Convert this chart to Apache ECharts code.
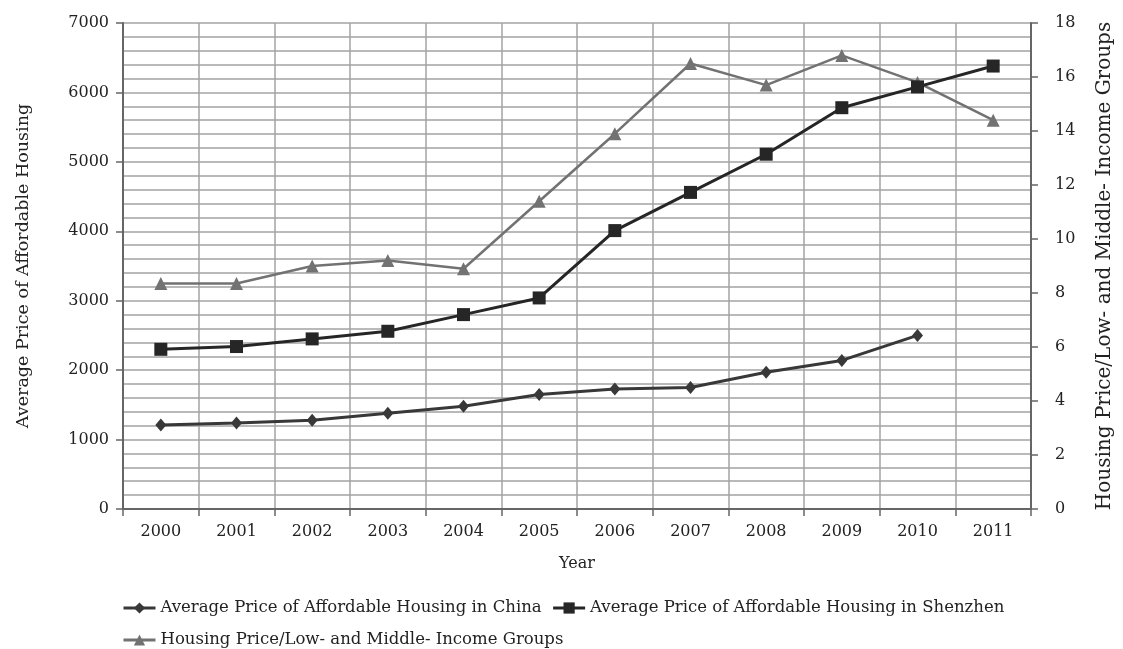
<!DOCTYPE html>
<html>
<head>
<meta charset="utf-8">
<script src="https://cdn.jsdelivr.net/npm/echarts@6/dist/echarts.min.js"></script>
<style>
html,body{margin:0;padding:0;background:#fff;}
#chart{width:1123px;height:649px;}
</style>
</head>
<body>
<div id="chart"></div>
<script>
const years = ['2000','2001','2002','2003','2004','2005','2006','2007','2008','2009','2010','2011'];
const chinaPrice = [1210, 1240, 1280, 1380, 1480, 1650, 1730, 1750, 1970, 2140, 2500, null];
const shenzhenPrice = [2300, 2340, 2450, 2560, 2800, 3040, 4010, 4560, 5110, 5780, 6080, 6380];
const priceIncomeRatio = [8.35, 8.35, 9.0, 9.2, 8.9, 11.4, 13.9, 16.5, 15.7, 16.8, 15.8, 14.4];
const halfSlots = years.flatMap(y => [y + 'a', y + 'b']);

const serif = 'DejaVu Serif';
const chart = echarts.init(document.getElementById('chart'), null, {renderer: 'canvas'});
const gridColor = '#a3a3a3';
const axisColor = '#666';

chart.setOption({
  animation: false,
  backgroundColor: '#fff',
  grid: {left: 123, right: 92, top: 23, bottom: 140, containLabel: false},
  legend: {
    left: 117, top: 592, width: 960,
    itemWidth: 32, itemHeight: 14, itemGap: 10,
    lineStyle: {width: 3},
    textStyle: {fontFamily: serif, fontSize: 16.5, color: '#222', lineHeight: 22},
    data: [
      'Average Price of Affordable Housing in China',
      'Average Price of Affordable Housing in Shenzhen',
      'Housing Price/Low- and Middle- Income Groups'
    ]
  },
  xAxis: [
    {
      type: 'category', data: years, boundaryGap: true,
      name: 'Year', nameLocation: 'middle', nameGap: 47,
      nameTextStyle: {fontFamily: serif, fontSize: 16, color: '#222'},
      axisLine: {lineStyle: {color: axisColor, width: 2}},
      axisTick: {show: true, length: 7, lineStyle: {color: axisColor, width: 1.5}},
      axisLabel: {fontFamily: serif, fontSize: 16, color: '#222', margin: 15},
      splitLine: {show: false}
    },
    {
      type: 'category', data: halfSlots, boundaryGap: true, position: 'bottom',
      axisLine: {show: false}, axisTick: {show: false}, axisLabel: {show: false},
      splitLine: {show: true, lineStyle: {color: gridColor, width: 1.5}}
    }
  ],
  yAxis: [
    {
      type: 'value', min: 0, max: 7000, interval: 1000, position: 'left',
      name: 'Average Price of Affordable Housing', nameLocation: 'middle', nameGap: 91, nameRotate: 90,
      nameTextStyle: {fontFamily: serif, fontSize: 17.5, color: '#222'},
      axisLine: {show: true, lineStyle: {color: axisColor, width: 2}},
      axisTick: {show: true, length: 7, lineStyle: {color: axisColor, width: 1.5}},
      axisLabel: {fontFamily: serif, fontSize: 16, color: '#222', margin: 14, formatter: v => String(v)},
      splitLine: {show: true, lineStyle: {color: gridColor, width: 1.5}},
      minorTick: {show: false, splitNumber: 5},
      minorSplitLine: {show: true, lineStyle: {color: gridColor, width: 1.5}}
    },
    {
      type: 'value', min: 0, max: 18, interval: 2, position: 'right',
      name: 'Housing Price/Low- and Middle- Income Groups', nameLocation: 'middle', nameGap: 64, nameRotate: 90,
      nameTextStyle: {fontFamily: serif, fontSize: 20, color: '#222'},
      axisLine: {show: true, lineStyle: {color: axisColor, width: 2}},
      axisTick: {show: true, length: 7, lineStyle: {color: axisColor, width: 1.5}},
      axisLabel: {fontFamily: serif, fontSize: 16, color: '#222', margin: 24, align: 'left'},
      splitLine: {show: false}
    }
  ],
  series: [
    {
      name: 'Average Price of Affordable Housing in China',
      type: 'line', xAxisIndex: 0, yAxisIndex: 0, data: chinaPrice,
      symbol: 'diamond', symbolSize: [11, 13],
      lineStyle: {color: '#383838', width: 3},
      itemStyle: {color: '#383838'},
      z: 5
    },
    {
      name: 'Average Price of Affordable Housing in Shenzhen',
      type: 'line', xAxisIndex: 0, yAxisIndex: 0, data: shenzhenPrice,
      symbol: 'rect', symbolSize: 13,
      lineStyle: {color: '#262626', width: 3},
      itemStyle: {color: '#262626'},
      z: 5
    },
    {
      name: 'Housing Price/Low- and Middle- Income Groups',
      type: 'line', xAxisIndex: 0, yAxisIndex: 1, data: priceIncomeRatio,
      symbol: 'triangle', symbolSize: 13,
      lineStyle: {color: '#727272', width: 2.5},
      itemStyle: {color: '#727272'},
      z: 4
    }
  ]
});
</script>
</body>
</html>
